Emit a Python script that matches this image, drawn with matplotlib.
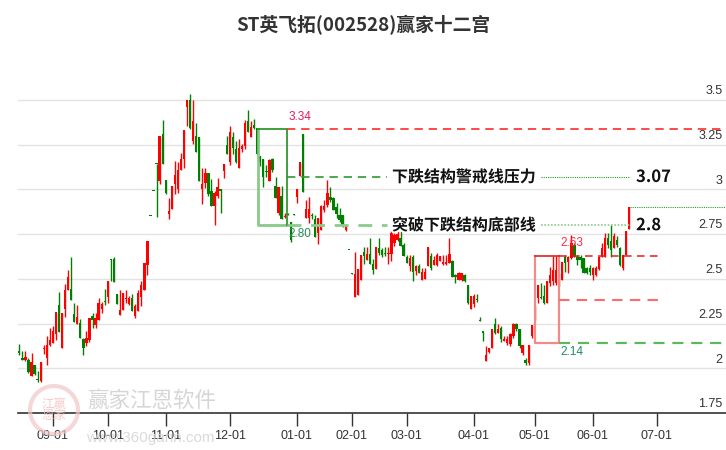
import matplotlib
matplotlib.use("Agg")
import matplotlib.pyplot as plt
import matplotlib.patheffects as pe
from matplotlib.patches import Rectangle, Circle
from matplotlib.transforms import blended_transform_factory, IdentityTransform
import numpy as np

# daily candles (open, high, low, close), one entry per trading day
opens = [2.095, 2.056, 2.044, 2.048, 1.955, 2.019, 1.936, 1.931, 2.108, 2.056,
         2.13, 2.141, 2.191, 2.352, 2.111, 2.33, 2.44, 2.446, 2.302, 2.25,
         2.252, 2.163, 2.144, 2.159, 2.293, 2.241, 2.269, 2.333, 2.376, 2.40,
         2.611, 2.611, 2.413, 2.298, 2.324, 2.388, 2.357, 2.394, 2.293, 2.32,
         2.4, 2.44, 2.58, 2.852, 2.991, 3.142, 3.05, 3.312, 3.052, 2.86,
         2.888, 3.028, 3.0, 3.106, 3.168, 3.461, 3.5, 3.271, 3.299, 3.293,
         3.0, 3.037, 3.093, 2.991, 2.91, 2.963, 3.004, 3.103, 3.248, 3.155,
         3.293, 3.224, 3.118, 3.224, 3.243, 3.382, 3.295, 3.36, 3.345, 3.187,
         3.172, 3.102, 3.05, 3.17, 3.02, 2.866, 2.963, 2.845, 2.861, 2.819,
         2.861, 2.96, 3.076, 3.31, 2.838, 2.838, 2.851, 2.832, 2.754, 2.772,
         2.885, 2.913, 2.96, 2.95, 2.904, 2.857, 2.857, 2.772, 2.661, 2.531,
         2.398, 2.41, 2.492, 2.65, 2.604, 2.638, 2.585, 2.557, 2.67, 2.66,
         2.645, 2.64, 2.641, 2.7, 2.72, 2.728, 2.69, 2.622, 2.57, 2.622,
         2.543, 2.574, 2.496, 2.5, 2.57, 2.626, 2.58, 2.58, 2.598, 2.585,
         2.585, 2.589, 2.598, 2.52, 2.496, 2.496, 2.524, 2.463, 2.333, 2.357,
         2.386, 2.266, 2.204, 2.043, 2.089, 2.111, 2.25, 2.2, 2.224, 2.155,
         2.14, 2.135, 2.181, 2.246, 2.219, 2.085, 2.048, 2.03, 2.178, 2.271,
         2.393, 2.4, 2.402, 2.365, 2.476, 2.486, 2.476, 2.517, 2.495, 2.625,
         2.597, 2.616, 2.69, 2.625, 2.625, 2.616, 2.56, 2.56, 2.523, 2.523,
         2.555, 2.625, 2.625, 2.728, 2.709, 2.672, 2.718, 2.672, 2.56, 2.635,
         2.778]
highs = [2.135, 2.094, 2.094, 2.057, 2.083, 2.019, 1.987, 2.033, 2.13, 2.18,
         2.224, 2.237, 2.313, 2.426, 2.311, 2.469, 2.552, 2.624, 2.363, 2.352,
         2.274, 2.172, 2.206, 2.283, 2.311, 2.311, 2.394, 2.372, 2.446, 2.49,
         2.611, 2.624, 2.413, 2.435, 2.422, 2.44, 2.407, 2.413, 2.357, 2.44,
         2.487, 2.589, 2.711, 2.852, 2.991, 3.142, 3.299, 3.386, 3.052, 2.953,
         3.019, 3.159, 3.155, 3.205, 3.332, 3.5, 3.535, 3.5, 3.373, 3.293,
         3.121, 3.121, 3.093, 3.056, 2.994, 3.062, 3.004, 3.144, 3.299, 3.354,
         3.321, 3.271, 3.28, 3.252, 3.386, 3.444, 3.382, 3.392, 3.345, 3.187,
         3.172, 3.138, 3.17, 3.175, 3.068, 3.012, 3.02, 2.87, 2.87, 2.819,
         2.861, 3.0, 3.156, 3.31, 2.941, 2.96, 2.87, 2.857, 2.838, 2.913,
         2.941, 3.053, 3.012, 2.96, 2.922, 2.894, 2.857, 2.8, 2.661, 2.531,
         2.65, 2.557, 2.632, 2.679, 2.679, 2.726, 2.613, 2.679, 2.726, 2.67,
         2.677, 2.68, 2.765, 2.774, 2.77, 2.765, 2.7, 2.635, 2.635, 2.635,
         2.58, 2.585, 2.561, 2.56, 2.676, 2.644, 2.63, 2.644, 2.63, 2.635,
         2.635, 2.731, 2.607, 2.53, 2.54, 2.533, 2.53, 2.463, 2.404, 2.413,
         2.413, 2.285, 2.204, 2.126, 2.111, 2.222, 2.28, 2.245, 2.235, 2.18,
         2.18, 2.2, 2.255, 2.255, 2.219, 2.132, 2.055, 2.132, 2.243, 2.35,
         2.467, 2.476, 2.467, 2.486, 2.569, 2.629, 2.629, 2.532, 2.597, 2.635,
         2.63, 2.746, 2.7, 2.635, 2.635, 2.616, 2.565, 2.578, 2.565, 2.57,
         2.63, 2.7, 2.756, 2.756, 2.802, 2.756, 2.737, 2.68, 2.635, 2.765,
         2.9]
lows = [2.076, 2.044, 2.04, 1.974, 1.955, 1.96, 1.922, 1.922, 2.08, 2.02,
        2.126, 2.141, 2.159, 2.204, 2.111, 2.287, 2.44, 2.383, 2.259, 2.25,
        2.172, 2.076, 2.126, 2.148, 2.226, 2.228, 2.269, 2.311, 2.352, 2.367,
        2.49, 2.481, 2.361, 2.298, 2.324, 2.367, 2.352, 2.32, 2.283, 2.32,
        2.348, 2.44, 2.524, 2.85, 2.989, 2.845, 3.032, 3.14, 2.972, 2.832,
        2.888, 2.972, 2.981, 3.106, 3.121, 3.354, 3.336, 3.252, 3.209, 3.05,
        2.916, 3.009, 2.963, 2.91, 2.804, 2.953, 2.869, 3.062, 3.201, 3.136,
        3.196, 3.149, 3.118, 3.211, 3.224, 3.321, 3.295, 3.336, 3.201, 3.131,
        3.015, 3.072, 3.045, 3.10, 2.95, 2.857, 2.832, 2.84, 2.855, 2.707,
        2.859, 2.922, 3.076, 2.988, 2.838, 2.81, 2.835, 2.735, 2.694, 2.772,
        2.876, 2.904, 2.932, 2.885, 2.838, 2.819, 2.79, 2.768, 2.659, 2.529,
        2.398, 2.41, 2.492, 2.585, 2.604, 2.585, 2.529, 2.557, 2.632, 2.622,
        2.627, 2.585, 2.598, 2.681, 2.71, 2.681, 2.626, 2.589, 2.543, 2.487,
        2.524, 2.533, 2.496, 2.5, 2.57, 2.552, 2.58, 2.57, 2.598, 2.58,
        2.58, 2.589, 2.511, 2.478, 2.496, 2.49, 2.482, 2.358, 2.333, 2.345,
        2.37, 2.262, 2.154, 2.043, 2.085, 2.111, 2.19, 2.2, 2.145, 2.15,
        2.13, 2.125, 2.17, 2.21, 2.113, 2.076, 2.02, 2.021, 2.17, 2.271,
        2.365, 2.39, 2.36, 2.365, 2.458, 2.467, 2.467, 2.458, 2.495, 2.541,
        2.532, 2.61, 2.62, 2.58, 2.56, 2.532, 2.53, 2.52, 2.495, 2.515,
        2.55, 2.62, 2.62, 2.67, 2.62, 2.672, 2.68, 2.57, 2.551, 2.635,
        2.778]
closes = [2.083, 2.044, 2.065, 1.981, 2.033, 1.969, 1.934, 2.033, 2.112, 2.133,
          2.157, 2.206, 2.313, 2.204, 2.311, 2.435, 2.513, 2.383, 2.259, 2.287,
          2.172, 2.111, 2.172, 2.283, 2.27, 2.283, 2.363, 2.361, 2.372, 2.49,
          2.605, 2.481, 2.361, 2.324, 2.422, 2.392, 2.394, 2.32, 2.348, 2.422,
          2.463, 2.589, 2.711, 2.85, 2.989, 3.14, 3.299, 3.14, 2.978, 2.879,
          3.019, 3.08, 3.108, 3.172, 3.332, 3.5, 3.345, 3.382, 3.209, 3.05,
          3.032, 3.093, 2.976, 2.91, 2.981, 3.013, 2.991, 3.144, 3.201, 3.321,
          3.233, 3.153, 3.233, 3.242, 3.373, 3.321, 3.349, 3.341, 3.201, 3.155,
          3.069, 3.098, 3.166, 3.106, 2.95, 3.012, 2.832, 2.852, 2.859, 2.716,
          2.859, 3.0, 3.151, 2.988, 2.889, 2.889, 2.849, 2.735, 2.838, 2.907,
          2.907, 2.978, 2.941, 2.885, 2.86, 2.829, 2.8, 2.8, 2.659, 2.529,
          2.529, 2.557, 2.632, 2.626, 2.638, 2.585, 2.548, 2.679, 2.642, 2.632,
          2.64, 2.645, 2.758, 2.746, 2.75, 2.681, 2.626, 2.589, 2.617, 2.537,
          2.57, 2.533, 2.537, 2.54, 2.676, 2.561, 2.607, 2.635, 2.626, 2.592,
          2.595, 2.639, 2.511, 2.512, 2.533, 2.533, 2.487, 2.363, 2.404, 2.404,
          2.384, 2.264, 2.2, 2.074, 2.111, 2.222, 2.2, 2.22, 2.163, 2.165,
          2.163, 2.191, 2.246, 2.219, 2.122, 2.132, 2.03, 2.132, 2.243, 2.35,
          2.467, 2.395, 2.365, 2.486, 2.523, 2.551, 2.551, 2.486, 2.597, 2.588,
          2.625, 2.7, 2.625, 2.607, 2.607, 2.532, 2.532, 2.54, 2.56, 2.56,
          2.625, 2.672, 2.728, 2.69, 2.662, 2.737, 2.69, 2.579, 2.635, 2.765,
          2.9]

# trading-day index of the first session of each month
tick_idx = [11, 29, 48, 69, 91, 109, 127, 149, 169, 188, 209]
tick_labels = ["09-01", "10-01", "11-01", "12-01", "01-01", "02-01",
               "03-01", "04-01", "05-01", "06-01", "07-01"]
ytick_vals = [3.5, 3.25, 3.0, 2.75, 2.5, 2.25, 2.0, 1.75]

# 赢家十二宫 levels
box_hi, box_lo = 3.34, 2.80
warn_level = 3.07
base_level = 2.8
last_high = 2.9
rbox_hi, rbox_mid, rbox_lo = 2.63, 2.38, 2.14

CJK = ["Noto Sans CJK SC", "DejaVu Sans"]
plt.rcParams["font.family"] = ["Liberation Sans", "Noto Sans CJK SC", "DejaVu Sans"]

o = np.array(opens); h = np.array(highs); l = np.array(lows); c = np.array(closes)
n = len(o)
idx = np.arange(n)
cols = np.where(c >= o, "#ff0000", "#008000")

fig = plt.figure(figsize=(7.26, 4.5), dpi=100)
ax = fig.add_axes([18 / 726, 37 / 450, 708 / 726, 333 / 450])
ax.set_ylim(1.75, 3.612)
ax.set_xlim(-0.43, 231.7)

for v in ytick_vals[:-1]:
    ax.axhline(v, color="#e2e2e2", lw=1.0, zorder=0)
ytr = blended_transform_factory(ax.transAxes, ax.transData)
for v in ytick_vals:
    ax.annotate(f"{v:g}", xy=(0.995, v), xycoords=ytr, xytext=(0, 2),
                textcoords="offset points", ha="right", va="bottom",
                fontsize=9, color="#333333")

ax.vlines(idx, l, h, colors=cols, lw=1.0, zorder=2)
ax.bar(idx, np.maximum(np.abs(c - o), 0.006), bottom=np.minimum(o, c),
       width=0.75, color=cols, linewidth=0, zorder=3)

# green box
gx0, gx1 = 78.3, 87.8
ax.plot([gx0, gx0, gx1], [box_hi, box_lo, box_lo], color="#7cc47c", lw=2, alpha=0.9, zorder=4)
ax.plot([gx0, gx1, gx1], [box_hi, box_hi, box_lo], color="#1f8f1f", lw=1.2, zorder=4)
ax.plot([gx1, 231.7], [box_hi, box_hi], color="#ff2a2a", lw=1.2, dashes=(5, 3.5), zorder=4)
ax.plot([gx1, 120.6], [warn_level, warn_level], color="#2e9a2e", lw=1.2, dashes=(5, 3.5), zorder=4)
ax.plot([gx1, 120.6], [box_lo, box_lo], color="#8ccb8c", lw=2, dashes=(5, 3.5), zorder=4)
ax.annotate(f"{box_hi:.2f}", xy=(gx1, box_hi), xytext=(1, 4), textcoords="offset points",
            ha="left", va="bottom", fontsize=8.5, color="#e8185a")
ax.annotate(f"{box_lo:.2f}", xy=(gx1, box_lo), xytext=(1, -2), textcoords="offset points",
            ha="left", va="top", fontsize=8.5, color="#2a8c5a")

# level labels
stroke = [pe.withStroke(linewidth=3, foreground="white")]
ax.text(122.2, warn_level, "下跌结构警戒线压力", family=CJK, fontsize=11.5, fontweight="bold",
        ha="left", va="center", color="#111111", path_effects=stroke, zorder=6)
ax.text(122.2, base_level, "突破下跌结构底部线", family=CJK, fontsize=11.5, fontweight="bold",
        ha="left", va="center", color="#111111", path_effects=stroke, zorder=6)
ax.plot([171.0, 200.2], [warn_level, warn_level], color="#2e9a2e", lw=0.8, ls=(0, (1, 1)), zorder=4)
ax.plot([171.0, 200.2], [base_level, base_level], color="#8ccb8c", lw=1.2, ls=(0, (1, 1)), zorder=4)
ax.plot([200.2, 231.7], [last_high, last_high], color="#2e9a2e", lw=0.8, ls=(0, (1, 1)), zorder=4)
ax.text(202.2, warn_level, f"{warn_level:.2f}", family=CJK, fontsize=12, fontweight="bold",
        ha="left", va="center", color="#111111", path_effects=stroke, zorder=6)
ax.text(202.2, base_level, f"{base_level:g}", family=CJK, fontsize=12, fontweight="bold",
        ha="left", va="center", color="#111111", path_effects=stroke, zorder=6)

# red box
rx0, rx1 = 169.1, 176.9
ax.plot([rx0, rx0, rx1, rx1], [rbox_hi, rbox_lo, rbox_lo, rbox_hi], color="#f38a8a", lw=1.6, zorder=4)
ax.plot([rx0, rx1], [rbox_hi, rbox_hi], color="#e01f1f", lw=1.2, zorder=4)
ax.plot([rx1, 210.1], [rbox_hi, rbox_hi], color="#e01f1f", lw=1.1, dashes=(5, 3.5), zorder=4)
ax.plot([rx1, 210.1], [rbox_mid, rbox_mid], color="#ff6a6a", lw=1.5, dashes=(5, 3.5), zorder=4)
ax.plot([rx1, 231.7], [rbox_lo, rbox_lo], color="#5cb85c", lw=1.6, dashes=(5, 3.5), zorder=4)
ax.annotate(f"{rbox_hi:.2f}", xy=(rx1, rbox_hi), xytext=(1, 5), textcoords="offset points",
            ha="left", va="bottom", fontsize=8.5, color="#ff2a4a")
ax.annotate(f"{rbox_lo:.2f}", xy=(rx1, rbox_lo), xytext=(1, -2), textcoords="offset points",
            ha="left", va="top", fontsize=8.5, color="#1f8a6a")

ax.set_yticks([])
ax.set_xticks(tick_idx)
ax.set_xticklabels(tick_labels, fontsize=9, color="#333333")
ax.tick_params(axis="x", length=9, width=1, color="#333333", pad=3)
for s in ["top", "left", "right"]:
    ax.spines[s].set_visible(False)
ax.spines["bottom"].set_color("#333333")
ax.spines["bottom"].set_linewidth(1.2)

fig.text(0.5, 1 - 25 / 450, "ST英飞拓(002528)赢家十二宫", family=CJK, fontsize=13.5,
         fontweight="bold", ha="center", va="center", color="#333333")

# watermark
logo = Circle((54, 450 - 410), 24, transform=IdentityTransform(), fill=False,
              edgecolor="#f2c6c6", lw=3, alpha=0.7)
fig.add_artist(logo)
fig.text(54 / 726, 1 - 410 / 450, "江赢\n恩家", family=CJK, fontsize=9, color="#f2c0c0",
         ha="center", va="center", linespacing=0.9, alpha=0.8)
fig.text(152 / 726, 1 - 401 / 450, "赢家江恩软件", family=CJK, fontsize=15.5, color="#cfcfcf",
         ha="center", va="center", alpha=0.85)
fig.text(150 / 726, 1 - 438 / 450, "www.360gann.com", fontsize=11, color="#d4d4d4",
         ha="center", va="center", alpha=0.85)

fig.savefig("out.png", dpi=100)
